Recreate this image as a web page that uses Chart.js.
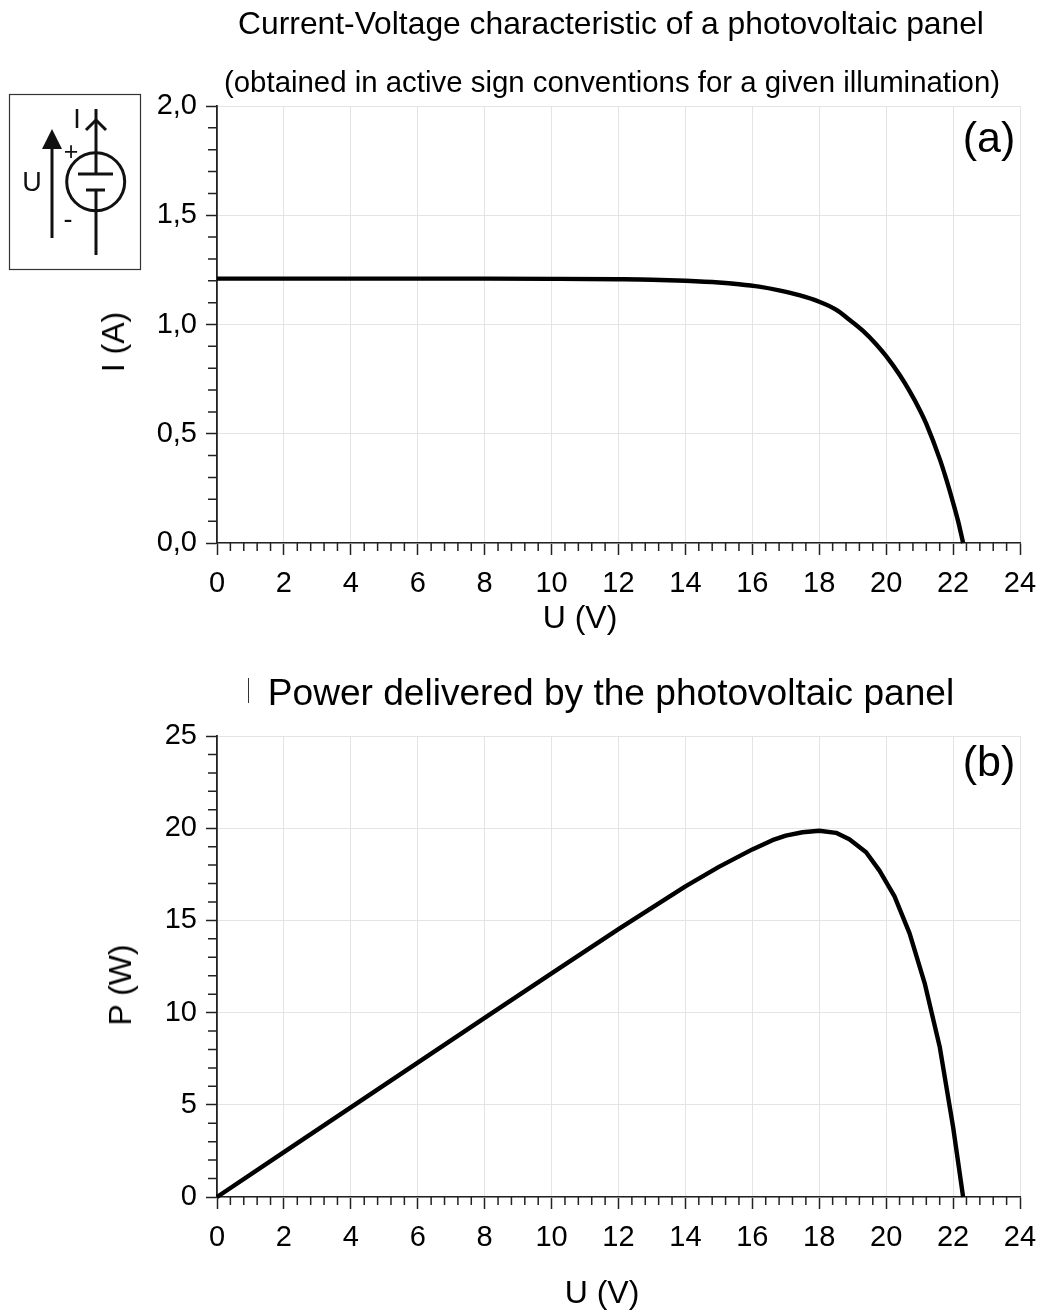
<!DOCTYPE html>
<html>
<head>
<meta charset="utf-8">
<title>Photovoltaic panel</title>
<script src="https://cdn.jsdelivr.net/npm/chart.js@4"></script>
<style>
  html, body { margin: 0; background: #fff; }
  #page { position: relative; width: 1042px; height: 1312px; overflow: hidden;
          font-family: "Liberation Sans", Arial, sans-serif; color: #000; }
  canvas { position: absolute; left: 0; }
  .t { position: absolute; white-space: nowrap; transform: translate(-50%, -50%); line-height: 1; }
  .rot { transform: translate(-50%, -50%) rotate(-90deg); }
  svg { position: absolute; left: 0; top: 0; }
  #bar { position: absolute; left: 248px; top: 678px; width: 1px; height: 25px; background: #333; }
</style>
</head>
<body>
<div id="page">
  <canvas id="chartIV" width="1042" height="640" style="top:0"></canvas>
  <canvas id="chartPV" width="1042" height="672" style="top:640px"></canvas>

  <div class="t" style="left:611px;top:24px;font-size:31.8px">Current-Voltage characteristic of a photovoltaic panel</div>
  <div class="t" style="left:612px;top:82px;font-size:29.4px">(obtained in active sign conventions for a given illumination)</div>
  <div class="t" style="left:611px;top:693px;font-size:37.1px">Power delivered by the photovoltaic panel</div>
  <div id="bar"></div>

  <div class="t" style="left:580px;top:617px;font-size:32px">U (V)</div>
  <div class="t" style="left:602px;top:1292px;font-size:32px">U (V)</div>
  <div class="t rot" style="left:113px;top:342px;font-size:32px">I (A)</div>
  <div class="t rot" style="left:120px;top:985px;font-size:32px">P (W)</div>
  <div class="t" style="left:989px;top:137px;font-size:43px">(a)</div>
  <div class="t" style="left:989px;top:761px;font-size:43px">(b)</div>

  <!-- circuit symbol, top left -->
  <svg width="150" height="280" viewBox="0 0 150 280">
    <rect x="9.5" y="94.5" width="131" height="175" fill="none" stroke="#333" stroke-width="1.2"/>
    <line x1="52" y1="238" x2="52" y2="148" stroke="#111" stroke-width="3"/>
    <polygon points="52,129 42,149 62,149" fill="#111"/>
    <line x1="96" y1="109" x2="96" y2="174" stroke="#111" stroke-width="3"/>
    <line x1="96" y1="190" x2="96" y2="255" stroke="#111" stroke-width="3"/>
    <polyline points="86,130 96,120 106,130" fill="none" stroke="#111" stroke-width="3"/>
    <circle cx="95.7" cy="181.7" r="29" fill="none" stroke="#111" stroke-width="3"/>
    <line x1="78" y1="174" x2="113" y2="174" stroke="#111" stroke-width="3"/>
    <line x1="86" y1="190" x2="105" y2="190" stroke="#111" stroke-width="3"/>
    <text x="77" y="128" font-size="27" text-anchor="middle" font-family="Liberation Sans" fill="#111">I</text>
    <text x="71" y="160" font-size="25" text-anchor="middle" font-family="Liberation Sans" fill="#111">+</text>
    <text x="32" y="191" font-size="27" text-anchor="middle" font-family="Liberation Sans" fill="#111">U</text>
    <text x="68" y="228" font-size="27" text-anchor="middle" font-family="Liberation Sans" fill="#111">-</text>
  </svg>
</div>

<script>
// values
const voltageIV = [0, 2, 4, 6, 8, 10, 12, 13, 14, 15, 15.6, 16.2, 16.8, 17.4, 18, 18.5, 18.9, 19.3, 19.7, 20, 20.4, 20.7, 21, 21.2, 21.6, 21.8, 22, 22.15, 22.3];
const currentIV = [1.21, 1.21, 1.21, 1.21, 1.21, 1.209, 1.207, 1.205, 1.2, 1.192, 1.184, 1.173, 1.156, 1.134, 1.104, 1.068, 1.022, 0.972, 0.91, 0.855, 0.77, 0.695, 0.61, 0.545, 0.385, 0.29, 0.185, 0.1, 0];

const voltagePV = [0, 2, 4, 6, 8, 10, 12, 14, 15, 16, 16.6, 17, 17.5, 18, 18.5, 18.9, 19.4, 19.8, 20.25, 20.7, 21.15, 21.6, 22, 22.3];
const powerPV = [0, 2.43, 4.86, 7.29, 9.71, 12.13, 14.53, 16.85, 17.9, 18.85, 19.35, 19.6, 19.78, 19.86, 19.75, 19.4, 18.7, 17.7, 16.3, 14.3, 11.6, 8.15, 3.8, 0];

const xMajorStep = 2;
const xMinorTicks = [0.4, 0.8, 1.2, 1.6, 2.4, 2.8, 3.2, 3.6, 4.4, 4.8, 5.2, 5.6, 6.4, 6.8, 7.2, 7.6, 8.4, 8.8, 9.2, 9.6, 10.4, 10.8, 11.2, 11.6, 12.4, 12.8, 13.2, 13.6, 14.4, 14.8, 15.2, 15.6, 16.4, 16.8, 17.2, 17.6, 18.4, 18.8, 19.2, 19.6, 20.4, 20.8, 21.2, 21.6, 22.4, 22.8, 23.2, 23.6];
const currentMinorTicks = [0.1, 0.2, 0.3, 0.4, 0.6, 0.7, 0.8, 0.9, 1.1, 1.2, 1.3, 1.4, 1.6, 1.7, 1.8, 1.9];
const powerMinorTicks = [1, 2, 3, 4, 6, 7, 8, 9, 11, 12, 13, 14, 16, 17, 18, 19, 21, 22, 23, 24];

const axisColor = '#222';
const gridColor = '#e4e4e4';
const tickFont = { family: '"Liberation Sans", Arial, sans-serif', size: 29 };

// chart.js has one tick length per axis, so the short ticks go in here
const minorTicks = {
  id: 'minorTicks',
  afterDraw(chart, args, opts) {
    const { ctx, scales: { x, y } } = chart;
    ctx.save();
    ctx.strokeStyle = axisColor;
    ctx.lineWidth = 1.5;
    ctx.beginPath();
    opts.x.forEach(v => {
      const px = x.getPixelForValue(v);
      ctx.moveTo(px, y.bottom);
      ctx.lineTo(px, y.bottom + 8);
    });
    opts.y.forEach(v => {
      const py = y.getPixelForValue(v);
      ctx.moveTo(x.left, py);
      ctx.lineTo(x.left - 9, py);
    });
    ctx.stroke();
    ctx.restore();
  }
};

const createChart = (id, xs, ys, yMax, yStep, yMinor, yFormat, top, bottomSpace, smooth) => {
  new Chart(document.getElementById(id), {
    type: 'scatter',
    plugins: [minorTicks],
    data: {
      datasets: [{
        data: xs.map((u, i) => ({ x: u, y: ys[i] })),
        showLine: true,
        borderColor: '#000',
        borderWidth: 4.4,
        borderJoinStyle: 'round',
        pointRadius: 0,
        tension: 0,
        cubicInterpolationMode: smooth ? 'monotone' : 'default',
        clip: false
      }]
    },
    options: {
      responsive: false,
      animation: false,
      layout: { padding: { top, right: 22, left: 0, bottom: 0 } },
      plugins: {
        legend: { display: false },
        title: { display: false },
        tooltip: { enabled: false },
        minorTicks: { x: xMinorTicks, y: yMinor }
      },
      scales: {
        x: {
          type: 'linear',
          min: 0,
          max: 24,
          afterFit: s => { s.height = bottomSpace; s.paddingLeft = 0; s.paddingRight = 0; },
          ticks: { stepSize: xMajorStep, maxRotation: 0, color: '#000', font: tickFont, padding: 12 },
          grid: { color: gridColor, tickColor: axisColor, tickLength: 12, lineWidth: 1, tickWidth: 1.5 },
          border: { color: axisColor, width: 1.4 }
        },
        y: {
          min: 0,
          max: yMax,
          afterFit: s => { s.width = 217; s.paddingTop = 0; s.paddingBottom = 0; },
          ticks: { stepSize: yStep, color: '#000', font: tickFont, padding: 9, callback: yFormat },
          grid: { color: gridColor, tickColor: axisColor, tickLength: 11, lineWidth: 1, tickWidth: 1.5 },
          border: { color: axisColor, width: 1.8 }
        }
      }
    }
  });
};

createChart('chartIV', voltageIV, currentIV, 2, 0.5, currentMinorTicks, v => v.toFixed(1).replace('.', ','), 106, 97, true);
createChart('chartPV', voltagePV, powerPV, 25, 5, powerMinorTicks, v => String(v), 96, 115, false);
</script>
</body>
</html>
